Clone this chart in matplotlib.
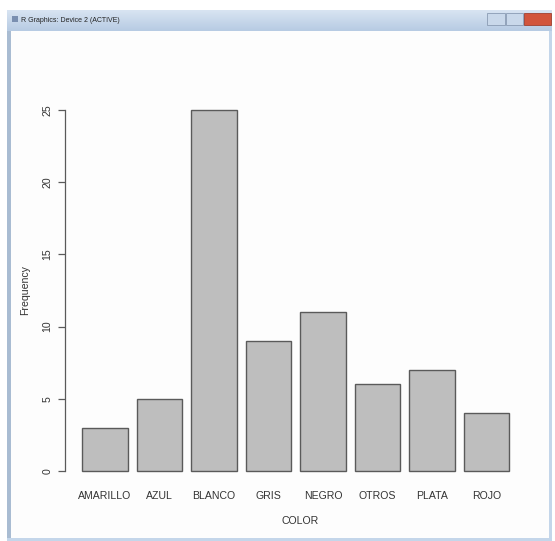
import numpy as np
import matplotlib.pyplot as plt
from matplotlib.patches import Rectangle
from matplotlib.colors import LinearSegmentedColormap

# bar chart data (table(COLOR) in R)
colores = ["AMARILLO", "AZUL", "BLANCO", "GRIS", "NEGRO", "OTROS", "PLATA", "ROJO"]
frecuencia = [3, 5, 25, 9, 11, 6, 7, 4]
y_ticks = [0, 5, 10, 15, 20, 25]

W, H = 555, 541
plt.rcParams['font.family'] = ['Liberation Sans', 'DejaVu Sans']

fig = plt.figure(figsize=(W / 100, H / 100), dpi=100)
fig.patch.set_facecolor("white")


def px(x, y, w, h):
    # top-left pixel box -> figure fraction box
    return [x / W, 1 - (y + h) / H, w / W, h / H]


def rect(x, y, w, h, z=-5, **kw):
    l, b, ww, hh = px(x, y, w, h)
    fig.patches.append(Rectangle((l, b), ww, hh, transform=fig.transFigure, zorder=z, **kw))


# window frame (R Graphics device)
rect(7, 10, 545, 531, z=-10, facecolor="#fdfdfd", edgecolor="none")
rect(7, 31, 4, 510, facecolor="#a9bcd2", edgecolor="none")
rect(549, 31, 3, 510, facecolor="#c4d6ea", edgecolor="none")
rect(7, 538, 545, 3, facecolor="#c4d6ea", edgecolor="none")

tb = fig.add_axes(px(7, 10, 545, 21), zorder=-1)
grad = np.linspace(0, 1, 30)[:, None]
tb.imshow(grad, aspect="auto", cmap=LinearSegmentedColormap.from_list(
    "tb", ["#d8e4f2", "#b7cbe3"]), extent=[0, 1, 0, 1])
tb.set_axis_off()
fig.text(21 / W, 1 - 20 / H, "R Graphics: Device 2 (ACTIVE)", fontsize=5, color="#222222",
         va="center", zorder=5)
rect(12, 16, 6, 6, z=5, facecolor="#7a8fb0", edgecolor="none")
rect(487, 13, 18, 12, z=5, facecolor="#c9d8ea", edgecolor="#8a9bb3", linewidth=0.6)
rect(506, 13, 17, 12, z=5, facecolor="#c9d8ea", edgecolor="#8a9bb3", linewidth=0.6)
rect(524, 13, 27, 12, z=5, facecolor="#d2553c", edgecolor="#a04030", linewidth=0.6)

# plot region
ax = fig.add_axes(px(64.8, 95.6, 471, 389.8))
x = 0.7 + 1.2 * np.arange(len(colores))
ax.bar(x, frecuencia, width=1.0, color="#bebebe", edgecolor="#5a5a5a", linewidth=1.0)
ax.set_xlim(0.2 - 0.384, 9.8 + 0.384)
ax.set_ylim(-1, 26)

for s in ["top", "right", "bottom"]:
    ax.spines[s].set_visible(False)
ax.spines["left"].set_bounds(0, 25)
ax.spines["left"].set_color("#5a5a5a")
ax.spines["left"].set_linewidth(0.9)
ax.set_facecolor("none")

ax.set_yticks(y_ticks)
ax.set_yticklabels([str(v) for v in y_ticks], rotation=90, va="center")
ax.tick_params(axis="y", length=5, width=0.9, color="#5a5a5a", labelsize=7.6,
               labelcolor="#333333", pad=4)
ax.set_xticks(x)
ax.set_xticklabels(colores)
ax.tick_params(axis="x", length=0, labelsize=7.6, labelcolor="#333333", pad=4)

ax.set_xlabel("COLOR", fontsize=7.6, color="#333333", labelpad=11)
ax.set_ylabel("Frequency", fontsize=7.6, color="#333333", labelpad=9)

fig.savefig("out.png", dpi=100)
